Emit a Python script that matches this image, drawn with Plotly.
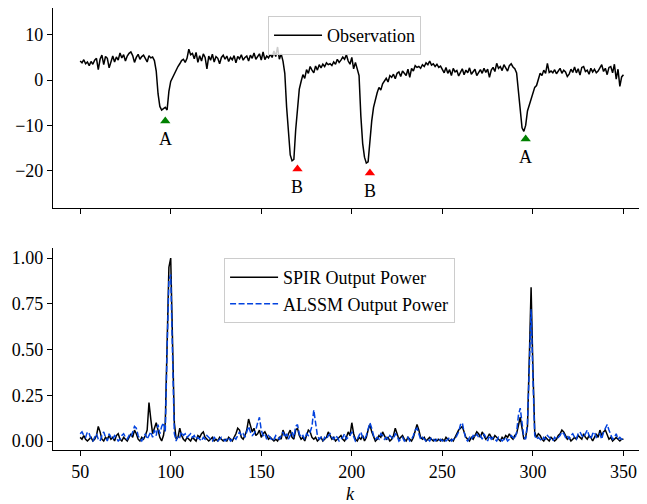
import plotly.graph_objects as go

k = list(range(50, 351))

observation = [
    4.2, 3.8, 4.5, 3.6, 4.0, 3.2, 4.1, 3.5, 4.4, 4.8,
    2.3, 4.6, 5.5, 3.4, 5.2, 4.8, 2.7, 3.8, 5.3, 4.0,
    5.1, 4.4, 6.0, 4.9, 5.6, 4.2, 5.3, 5.9, 6.2, 5.4,
    3.9, 5.0, 5.7, 4.6, 5.2, 5.5, 4.8, 4.0, 5.4, 4.9,
    5.1, 4.3, 2.0, -3.0, -5.8, -6.6, -6.3, -6.0, -6.6, -2.5,
    -0.3, 0.6, 1.5, 2.0, 3.0, 3.6, 4.3, 4.6, 3.9, 4.8,
    6.8, 5.6, 5.9, 4.7, 6.1, 3.9, 5.4, 4.2, 5.8, 5.0,
    2.5, 5.3, 4.4, 5.7, 4.0, 5.2, 4.8, 3.6, 5.0, 5.5,
    4.6, 5.3, 4.1, 5.0, 4.5, 5.4, 3.8, 5.2, 4.7, 5.6,
    4.4, 5.0, 5.3, 4.2, 5.5, 4.8, 6.0, 4.6, 5.2, 5.8,
    4.4, 6.2, 4.5, 5.3, 4.9, 5.7, 5.0, 6.4, 5.2, 7.3,
    4.6, 5.8, 4.2, 1.5, -6.0, -12.5, -16.5, -17.8, -17.5, -11.0,
    -5.5, -2.0, -0.3, 1.2, 0.4, 2.3, 1.5, 3.0, 2.2, 1.6,
    3.1, 2.2, 3.4, 2.7, 3.5, 3.0, 3.8, 3.4, 3.6, 3.2,
    4.0, 3.5, 4.6, 3.9, 4.4, 5.1, 4.6, 5.6, 4.2, 3.5,
    5.0, 2.5, 3.9, 2.6, 1.0, -8.0, -14.0, -17.0, -18.3, -18.0,
    -13.0, -9.0, -6.0, -4.0, -2.8, -1.6, -2.2, -0.8, -0.2, 0.4,
    -0.4, 1.0, 0.6, 1.3, 0.3, 1.5, 1.8, 0.8, 2.0, 1.4,
    1.0, 2.4, 0.6, 2.6, 2.0, 3.2, 2.8, 3.0, 2.6, 3.4,
    3.0, 3.8, 3.4, 4.2, 3.3, 3.6, 3.0, 3.5, 2.8, 3.1,
    2.2, 1.6, 2.8, 1.5, 2.3, 1.0, 2.6, 1.8, 2.1, 0.9,
    1.7, 2.5, 1.2, 2.2, 1.6, 2.7, 1.3, 1.9, 2.4, 1.0,
    1.8, 2.3, 1.5, 2.6, 1.7, 2.4, 0.6, 2.2, 2.8, 1.9,
    3.7, 2.6, 3.0, 2.1, 3.4, 2.7, 2.0, 3.2, 3.6, 2.9,
    2.5, 1.6, -2.5, -8.0, -10.5, -11.3, -10.0, -6.8, -5.5, -4.3,
    -3.0, -1.6, -1.2, 0.3, 1.5, 1.0, 2.2, 1.5, 3.7, 1.7,
    2.0, 1.6, 2.3, 1.4, 2.0, 2.6, 1.5, 2.2, 1.8, 0.8,
    1.3, 2.4, 1.7, 2.9, 1.6, 2.5, 1.1, 2.8, 3.0, 1.9,
    2.2, 1.3, 2.6, 1.8, 2.4, 1.6, 2.0, 2.6, 3.4, 1.9,
    2.6, 1.2, 2.8, 3.0, 1.6, 3.5, 0.2, 2.4, -1.4, 0.7,
    1.2,
]

spir_power = [
    0.02, 0.01, 0.03, 0.01, 0.00, 0.01, 0.02, 0.00, 0.01, 0.03,
    0.08, 0.05, 0.01, 0.00, 0.02, 0.01, 0.03, 0.01, 0.02, 0.00,
    0.03, 0.04, 0.01, 0.00, 0.02, 0.01, 0.00, 0.02, 0.04, 0.02,
    0.06, 0.04, 0.01, 0.00, 0.02, 0.01, 0.03, 0.06, 0.21, 0.12,
    0.04, 0.07, 0.10, 0.06, 0.02, 0.00, 0.03, 0.10, 0.55, 0.95,
    1.00, 0.55, 0.10, 0.01, 0.02, 0.07, 0.03, 0.01, 0.00, 0.02,
    0.01, 0.00, 0.02, 0.01, 0.00, 0.03, 0.02, 0.04, 0.05, 0.02,
    0.01, 0.00, 0.01, 0.02, 0.00, 0.01, 0.00, 0.02, 0.01, 0.00,
    0.01, 0.00, 0.02, 0.01, 0.00, 0.02, 0.04, 0.07, 0.06, 0.02,
    0.01, 0.03, 0.06, 0.12, 0.08, 0.05, 0.07, 0.03, 0.04, 0.06,
    0.02, 0.04, 0.05, 0.03, 0.01, 0.02, 0.01, 0.00, 0.01, 0.00,
    0.02, 0.01, 0.06, 0.03, 0.01, 0.04, 0.06, 0.02, 0.01, 0.06,
    0.07, 0.03, 0.01, 0.02, 0.00, 0.03, 0.06, 0.05, 0.02, 0.01,
    0.02, 0.00, 0.01, 0.02, 0.00, 0.01, 0.02, 0.05, 0.03, 0.01,
    0.02, 0.00, 0.01, 0.02, 0.03, 0.01, 0.00, 0.02, 0.05, 0.03,
    0.10, 0.04, 0.01, 0.00, 0.02, 0.01, 0.03, 0.00, 0.02, 0.06,
    0.09, 0.05, 0.02, 0.00, 0.01, 0.03, 0.02, 0.05, 0.03, 0.01,
    0.02, 0.00, 0.01, 0.03, 0.07, 0.04, 0.01, 0.02, 0.03, 0.01,
    0.00, 0.02, 0.01, 0.00, 0.02, 0.05, 0.09, 0.06, 0.02, 0.01,
    0.02, 0.00, 0.01, 0.02, 0.01, 0.00, 0.01, 0.00, 0.01, 0.00,
    0.01, 0.00, 0.02, 0.01, 0.00, 0.01, 0.00, 0.02, 0.04, 0.06,
    0.07, 0.08, 0.05, 0.02, 0.01, 0.00, 0.02, 0.01, 0.03, 0.05,
    0.04, 0.02, 0.05, 0.03, 0.01, 0.02, 0.04, 0.02, 0.01, 0.03,
    0.02, 0.01, 0.00, 0.02, 0.01, 0.03, 0.02, 0.04, 0.02, 0.01,
    0.03, 0.04, 0.09, 0.13, 0.07, 0.01, 0.02, 0.08, 0.45, 0.84,
    0.40, 0.05, 0.02, 0.04, 0.03, 0.01, 0.00, 0.02, 0.01, 0.00,
    0.02, 0.01, 0.00, 0.01, 0.03, 0.04, 0.06, 0.05, 0.03, 0.01,
    0.02, 0.00, 0.01, 0.02, 0.01, 0.03, 0.02, 0.01, 0.04, 0.02,
    0.01, 0.03, 0.02, 0.00, 0.02, 0.04, 0.02, 0.06, 0.03, 0.05,
    0.06, 0.03, 0.01, 0.02, 0.00, 0.01, 0.02, 0.01, 0.00, 0.01,
    0.01,
]

alssm_power = [
    0.04, 0.05, 0.03, 0.02, 0.05, 0.04, 0.01, 0.00, 0.02, 0.04,
    0.01, 0.00, 0.03, 0.05, 0.02, 0.00, 0.04, 0.02, 0.01, 0.03,
    0.02, 0.00, 0.01, 0.03, 0.04, 0.02, 0.01, 0.03, 0.02, 0.05,
    0.08, 0.07, 0.03, 0.01, 0.00, 0.02, 0.04, 0.01, 0.03, 0.05,
    0.02, 0.06, 0.03, 0.09, 0.04, 0.08, 0.10, 0.05, 0.50, 0.88,
    0.91, 0.52, 0.04, 0.00, 0.03, 0.02, 0.05, 0.03, 0.04, 0.02,
    0.03, 0.04, 0.02, 0.03, 0.01, 0.02, 0.01, 0.00, 0.02, 0.01,
    0.03, 0.02, 0.01, 0.00, 0.02, 0.01, 0.00, 0.01, 0.02, 0.01,
    0.00, 0.01, 0.02, 0.00, 0.01, 0.02, 0.01, 0.03, 0.05, 0.03,
    0.04, 0.02, 0.05, 0.08, 0.05, 0.03, 0.04, 0.06, 0.10, 0.13,
    0.06, 0.03, 0.04, 0.01, 0.03, 0.02, 0.00, 0.01, 0.03, 0.02,
    0.01, 0.03, 0.05, 0.02, 0.04, 0.01, 0.03, 0.05, 0.02, 0.08,
    0.09, 0.04, 0.02, 0.03, 0.01, 0.04, 0.03, 0.05, 0.08, 0.17,
    0.10, 0.03, 0.01, 0.02, 0.00, 0.02, 0.01, 0.03, 0.04, 0.02,
    0.01, 0.03, 0.02, 0.00, 0.01, 0.02, 0.04, 0.01, 0.02, 0.03,
    0.05, 0.02, 0.00, 0.01, 0.03, 0.05, 0.02, 0.01, 0.03, 0.07,
    0.10, 0.07, 0.03, 0.01, 0.02, 0.01, 0.04, 0.03, 0.01, 0.02,
    0.01, 0.03, 0.02, 0.01, 0.04, 0.03, 0.00, 0.01, 0.02, 0.00,
    0.01, 0.02, 0.00, 0.01, 0.03, 0.06, 0.07, 0.04, 0.01, 0.02,
    0.01, 0.00, 0.01, 0.00, 0.02, 0.01, 0.00, 0.01, 0.00, 0.01,
    0.00, 0.01, 0.00, 0.01, 0.02, 0.00, 0.01, 0.01, 0.03, 0.05,
    0.09, 0.10, 0.05, 0.01, 0.00, 0.02, 0.01, 0.03, 0.02, 0.04,
    0.02, 0.03, 0.01, 0.04, 0.02, 0.00, 0.03, 0.01, 0.02, 0.01,
    0.00, 0.02, 0.01, 0.00, 0.01, 0.02, 0.00, 0.01, 0.03, 0.02,
    0.01, 0.05, 0.14, 0.18, 0.08, 0.02, 0.01, 0.10, 0.40, 0.72,
    0.35, 0.03, 0.01, 0.02, 0.01, 0.00, 0.02, 0.01, 0.03, 0.02,
    0.01, 0.00, 0.02, 0.01, 0.02, 0.03, 0.05, 0.04, 0.02, 0.03,
    0.01, 0.03, 0.04, 0.02, 0.01, 0.04, 0.05, 0.03, 0.02, 0.04,
    0.06, 0.03, 0.01, 0.04, 0.05, 0.02, 0.03, 0.04, 0.01, 0.05,
    0.07, 0.09, 0.06, 0.03, 0.01, 0.02, 0.04, 0.01, 0.02, 0.01,
    0.01,
]

event_k = [97, 170, 210, 296]
event_y = [-9.0, -19.6, -20.5, -13.0]
event_label = ["A", "B", "B", "A"]
event_color = ["#008000", "#ff0000", "#ff0000", "#008000"]

x_ticks = [50, 100, 150, 200, 250, 300, 350]
top_ticks = [-20, -10, 0, 10]
bottom_ticks = [0.0, 0.25, 0.5, 0.75, 1.0]

FONT = "Liberation Serif"
FS = 18

fig = go.Figure()

fig.add_trace(go.Scatter(
    x=k, y=observation, mode="lines", name="Observation",
    line=dict(color="black", width=1.5), xaxis="x2", yaxis="y2",
    legend="legend",
))
fig.add_trace(go.Scatter(
    x=event_k, y=event_y, mode="markers", showlegend=False,
    marker=dict(symbol="triangle-up", size=9, color=event_color),
    xaxis="x2", yaxis="y2",
))
fig.add_trace(go.Scatter(
    x=k, y=spir_power, mode="lines", name="SPIR Output Power",
    line=dict(color="black", width=1.5), xaxis="x", yaxis="y",
    legend="legend2",
))
fig.add_trace(go.Scatter(
    x=k, y=alssm_power, mode="lines", name="ALSSM Output Power",
    line=dict(color="#0343df", width=1.5, dash="6px,2.5px"),
    xaxis="x", yaxis="y", legend="legend2",
))

annotations = []
for kk, yy, lab in zip(event_k, event_y, event_label):
    annotations.append(dict(
        x=kk, y=yy, xref="x2", yref="y2", text=lab, showarrow=False,
        yshift=-18, font=dict(family=FONT, size=FS, color="black"),
    ))

axis_common = dict(
    showline=True, linecolor="black", linewidth=1.2, mirror=False,
    ticks="outside", ticklen=5, tickwidth=1.2, tickcolor="black",
    showgrid=False, zeroline=False, automargin=False,
    tickfont=dict(family=FONT, size=FS, color="black"),
)

legend_common = dict(
    xanchor="left", yanchor="top", xref="paper", yref="paper",
    bgcolor="rgba(255,255,255,0.8)", bordercolor="#cccccc", borderwidth=1,
    font=dict(family=FONT, size=FS), itemwidth=48,
)

# The page body has an 8px default margin, so the figure is 8px smaller.
fig.update_layout(
    width=639, height=496,
    margin=dict(l=45, r=0, t=0, b=54),
    paper_bgcolor="white", plot_bgcolor="white",
    font=dict(family=FONT, size=FS, color="black"),
    xaxis=dict(domain=[0, 1], range=[35, 363], anchor="y",
               tickvals=x_ticks, ticktext=[str(v) for v in x_ticks],
               title=dict(text="<i>k</i>", font=dict(family=FONT, size=FS), standoff=8),
               **axis_common),
    yaxis=dict(domain=[0, 0.457], range=[-0.049, 1.055], anchor="x",
               tickvals=bottom_ticks, ticktext=[f"{v:.2f}" for v in bottom_ticks],
               **axis_common),
    xaxis2=dict(domain=[0, 1], range=[35, 363], anchor="y2", matches="x",
                tickvals=x_ticks, showticklabels=False, **axis_common),
    yaxis2=dict(domain=[0.5475, 1], range=[-28.2, 15.9], anchor="x2",
                tickvals=top_ticks, ticktext=[("\u2212" + str(-v)) if v < 0 else str(v) for v in top_ticks],
                **axis_common),
    legend=dict(x=0.362, y=0.982, **legend_common),
    legend2=dict(x=0.288, y=0.434, **legend_common),
    annotations=annotations,
    showlegend=True,
)

fig.write_html("out.html")
